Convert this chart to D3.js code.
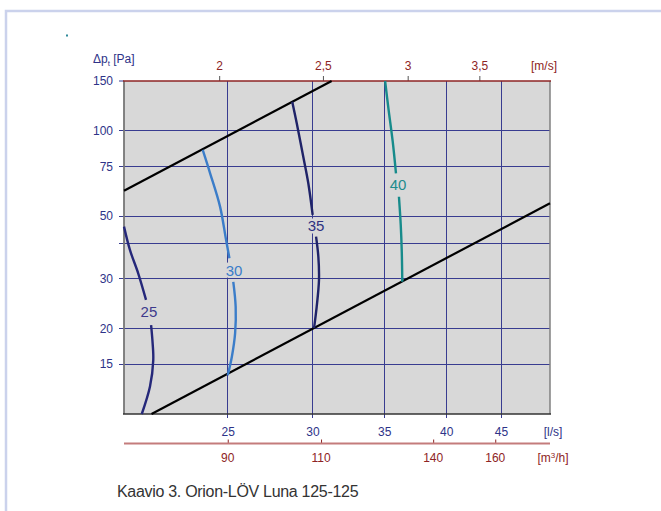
<!DOCTYPE html>
<html>
<head>
<meta charset="utf-8">
<script src="https://cdn.jsdelivr.net/npm/d3@7"></script>
<style>
  body { margin: 0; background: #fff; }
  svg { display: block; font-family: "Liberation Sans", Arial, Helvetica, sans-serif; }
</style>
</head>
<body>
<svg id="chart" width="661" height="511"></svg>
<script>
// Axis ticks and grid
const flowTicks = [25, 30, 35, 40, 45];            // l/s
const pressureTicks = [15, 20, 30, 50, 75, 100, 150]; // Pa
const pressureGrid = [15, 20, 30, 40, 50, 75, 100];
const velocityTicks = [2, 2.5, 3, 3.5];             // m/s
const hourlyTicks = [90, 110, 140, 160];            // m³/h

// Operating-range limits (straight lines in log–log): [flow l/s, pressure Pa]
const upperLimit = [[20, 61.4], [31.26, 150]];
const lowerLimit = [[21.22, 10], [50, 55.5]];

// Sound-level contours (dB(A)), each split around its label
const level25Upper = [[20.0, 45.9], [20.26, 37.9], [20.62, 31.4], [20.97, 25.3]];
const level25Lower = [[21.2, 20.6], [21.27, 17.8], [21.3, 15.5], [21.15, 12.5], [20.78, 10.0]];
const level30Upper = [[23.69, 85.6], [24.07, 70.8], [24.59, 54.0], [24.91, 41.2], [25.09, 35.5]];
const level30Lower = [[25.30, 29.3], [25.43, 23.9], [25.40, 19.3], [25.22, 15.9], [25.0, 13.7]];
const level35Upper = [[28.72, 126.8], [29.0, 106.3], [29.41, 81.0], [29.73, 65.3], [30.01, 50.5]];
const level35Lower = [[30.23, 42.3], [30.38, 35.9], [30.42, 29.7], [30.27, 23.9], [30.10, 20.1]];
const level40Upper = [[35.07, 150], [35.32, 120.1], [35.65, 91.6], [35.90, 70.8]];
const level40Lower = [[36.13, 58.5], [36.27, 46.5], [36.35, 37.4], [36.39, 29.3]];

const levelNames = ["25", "30", "35", "40"];
const levelLabelPos = [[21.1, 23.0], [25.34, 32.2], [30.23, 46.1], [36.06, 64.4]];
const levelColors = ["#25287a", "#3b7dc9", "#1f2368", "#178b8b"];
const levelTextColors = ["#3d3a8c", "#3b7dc9", "#2e3282", "#1e8c8c"];

const svg = d3.select("#chart");
const plotBg = "#d8d8d8";
const gridColor = "#383c90";
const navyText = "#2e3388";
const redText = "#8e2424";
const crisp = v => Math.round(v - 0.5) + 0.5;

// Frame
svg.append("path")
  .attr("d", "M6,511 V11 H661")
  .attr("fill", "none").attr("stroke", "#cbd2ec").attr("stroke-width", 2.5);
svg.append("rect").attr("x", 66).attr("y", 34.5).attr("width", 2).attr("height", 2).attr("fill", "#2f8a9a");

// Scales
const x = d3.scaleLog().domain([20, 50]).range([124, 550]);
const y = d3.scaleLog().domain([10, 150]).range([414, 81]);
const ductArea = Math.PI * 0.0625 * 0.0625;
const xv = d3.scaleLog().domain(x.domain().map(q => q / 1000 / ductArea)).range(x.range());
const xh = d3.scaleLog().domain(x.domain().map(q => q * 3.6)).range(x.range());

const comma = v => String(v).replace(".", ",");

// Plot background
svg.append("rect")
  .attr("x", x.range()[0]).attr("y", y.range()[1])
  .attr("width", x.range()[1] - x.range()[0]).attr("height", y.range()[0] - y.range()[1])
  .attr("fill", plotBg);

// Horizontal grid (extends left as ticks)
svg.append("g").selectAll("line").data(pressureGrid).join("line")
  .attr("x1", 119).attr("x2", x.range()[1])
  .attr("y1", d => crisp(y(d))).attr("y2", d => crisp(y(d)))
  .attr("stroke", gridColor).attr("stroke-width", 1);
svg.append("line").attr("x1", 119).attr("x2", 124).attr("y1", y(150)).attr("y2", y(150))
  .attr("stroke", gridColor);

// Vertical grid (extends below as ticks)
svg.append("g").selectAll("line").data(flowTicks).join("line")
  .attr("x1", d => crisp(x(d))).attr("x2", d => crisp(x(d)))
  .attr("y1", y.range()[1]).attr("y2", 418)
  .attr("stroke", gridColor).attr("stroke-width", 1);

// Left axis labels
const leftAxis = d3.axisLeft(y).tickValues(pressureTicks).tickFormat(d3.format("d")).tickSize(0).tickPadding(11);
const gl = svg.append("g").attr("transform", `translate(${x.range()[0]},0)`).call(leftAxis);
gl.select(".domain").remove();
gl.selectAll("text").attr("fill", navyText).attr("font-size", 12).attr("font-family", "Liberation Sans, Arial, sans-serif");

// Top velocity axis
const topAxis = d3.axisTop(xv).tickValues(velocityTicks).tickFormat(comma).tickSize(5).tickPadding(6);
const gt = svg.append("g").attr("transform", `translate(0,${y.range()[1]})`).call(topAxis);
gt.select(".domain").remove();
gt.selectAll(".tick line").attr("stroke", "#555");
gt.selectAll("text").attr("fill", redText).attr("font-size", 12).attr("font-family", "Liberation Sans, Arial, sans-serif");

// Bottom flow axis labels (l/s)
const botAxis = d3.axisBottom(x).tickValues(flowTicks).tickFormat(d3.format("d")).tickSize(0).tickPadding(13);
const gb = svg.append("g").attr("transform", `translate(0,${y.range()[0]})`).call(botAxis);
gb.select(".domain").remove();
gb.selectAll("text").attr("fill", navyText).attr("font-size", 12).attr("font-family", "Liberation Sans, Arial, sans-serif");

// Second bottom axis (m³/h)
const hAxis = d3.axisTop(xh).tickValues(hourlyTicks).tickFormat(d3.format("d")).tickSize(4);
const gh = svg.append("g").attr("transform", "translate(0,443.5)").call(hAxis);
gh.select(".domain").remove();
gh.selectAll(".tick line").attr("stroke", "#8e2424");
gh.selectAll("text").remove();
svg.append("line").attr("x1", x.range()[0]).attr("x2", x.range()[1]).attr("y1", 443.5).attr("y2", 443.5)
  .attr("stroke", "#c47c7c").attr("stroke-width", 2);
svg.append("g").selectAll("text").data(hourlyTicks).join("text")
  .attr("x", d => xh(d)).attr("y", 462)
  .attr("text-anchor", "middle").attr("font-size", 12).attr("fill", redText)
  .text(d => d);

// Unit labels
svg.append("text").attr("x", 544).attr("y", 70).attr("text-anchor", "middle")
  .attr("font-size", 12).attr("fill", redText).text("[m/s]");
svg.append("text").attr("x", 553).attr("y", 436).attr("text-anchor", "middle")
  .attr("font-size", 12).attr("fill", navyText).text("[l/s]");
const mh = svg.append("text").attr("x", 553).attr("y", 462).attr("text-anchor", "middle")
  .attr("font-size", 12).attr("fill", redText);
mh.append("tspan").text("[m");
mh.append("tspan").attr("font-size", 8).attr("dy", -4).text("3");
mh.append("tspan").attr("dy", 4).text("/h]");
const pa = svg.append("text").attr("x", 93).attr("y", 63).attr("font-size", 12).attr("fill", navyText);
pa.append("tspan").text("Δp");
pa.append("tspan").attr("font-size", 8).attr("dy", 3).text("t");
pa.append("tspan").attr("dy", -3).text(" [Pa]");

// Plot borders
svg.append("line").attr("x1", 124).attr("x2", 124).attr("y1", 81).attr("y2", 414)
  .attr("stroke", "#777").attr("stroke-width", 1.8);
svg.append("line").attr("x1", 550).attr("x2", 550).attr("y1", 81).attr("y2", 414)
  .attr("stroke", "#808080").attr("stroke-width", 1.5);
svg.append("line").attr("x1", 123).attr("x2", 551).attr("y1", 414).attr("y2", 414)
  .attr("stroke", "#333").attr("stroke-width", 1.5);
svg.append("line").attr("x1", 123).attr("x2", 551).attr("y1", 81).attr("y2", 81)
  .attr("stroke", "#8e2424").attr("stroke-width", 1.5);

// Limit lines
const line = d3.line().x(d => x(d[0])).y(d => y(d[1]));
[upperLimit, lowerLimit].forEach(seg => {
  svg.append("path").attr("d", line(seg)).attr("fill", "none")
    .attr("stroke", "#000").attr("stroke-width", 2.2);
});

// Sound-level contours
const smooth = d3.line().x(d => x(d[0])).y(d => y(d[1])).curve(d3.curveCatmullRom);
const segments = [
  [level25Upper, level25Lower], [level30Upper, level30Lower],
  [level35Upper, level35Lower], [level40Upper, level40Lower]
];
segments.forEach((pair, i) => {
  pair.forEach(seg => {
    svg.append("path").attr("d", smooth(seg)).attr("fill", "none")
      .attr("stroke", levelColors[i]).attr("stroke-width", 2.4).attr("stroke-linecap", "butt");
  });
});

// Contour labels
levelNames.forEach((name, i) => {
  const [q, p] = levelLabelPos[i];
  const g = svg.append("g");
  const t = g.append("text").attr("x", x(q)).attr("y", y(p)).attr("dy", "0.36em")
    .attr("text-anchor", "middle").attr("font-size", 15).attr("fill", levelTextColors[i]).text(name);
  const b = t.node().getBBox();
  g.insert("rect", "text").attr("x", b.x - 1).attr("y", b.y + 1).attr("width", b.width + 2).attr("height", b.height - 2)
    .attr("fill", plotBg);
});

// Caption
svg.append("text").attr("x", 117).attr("y", 497).attr("font-size", 16).attr("letter-spacing", -0.3)
  .attr("fill", "#333").text("Kaavio 3. Orion-LÖV Luna 125-125");
</script>
</body>
</html>
